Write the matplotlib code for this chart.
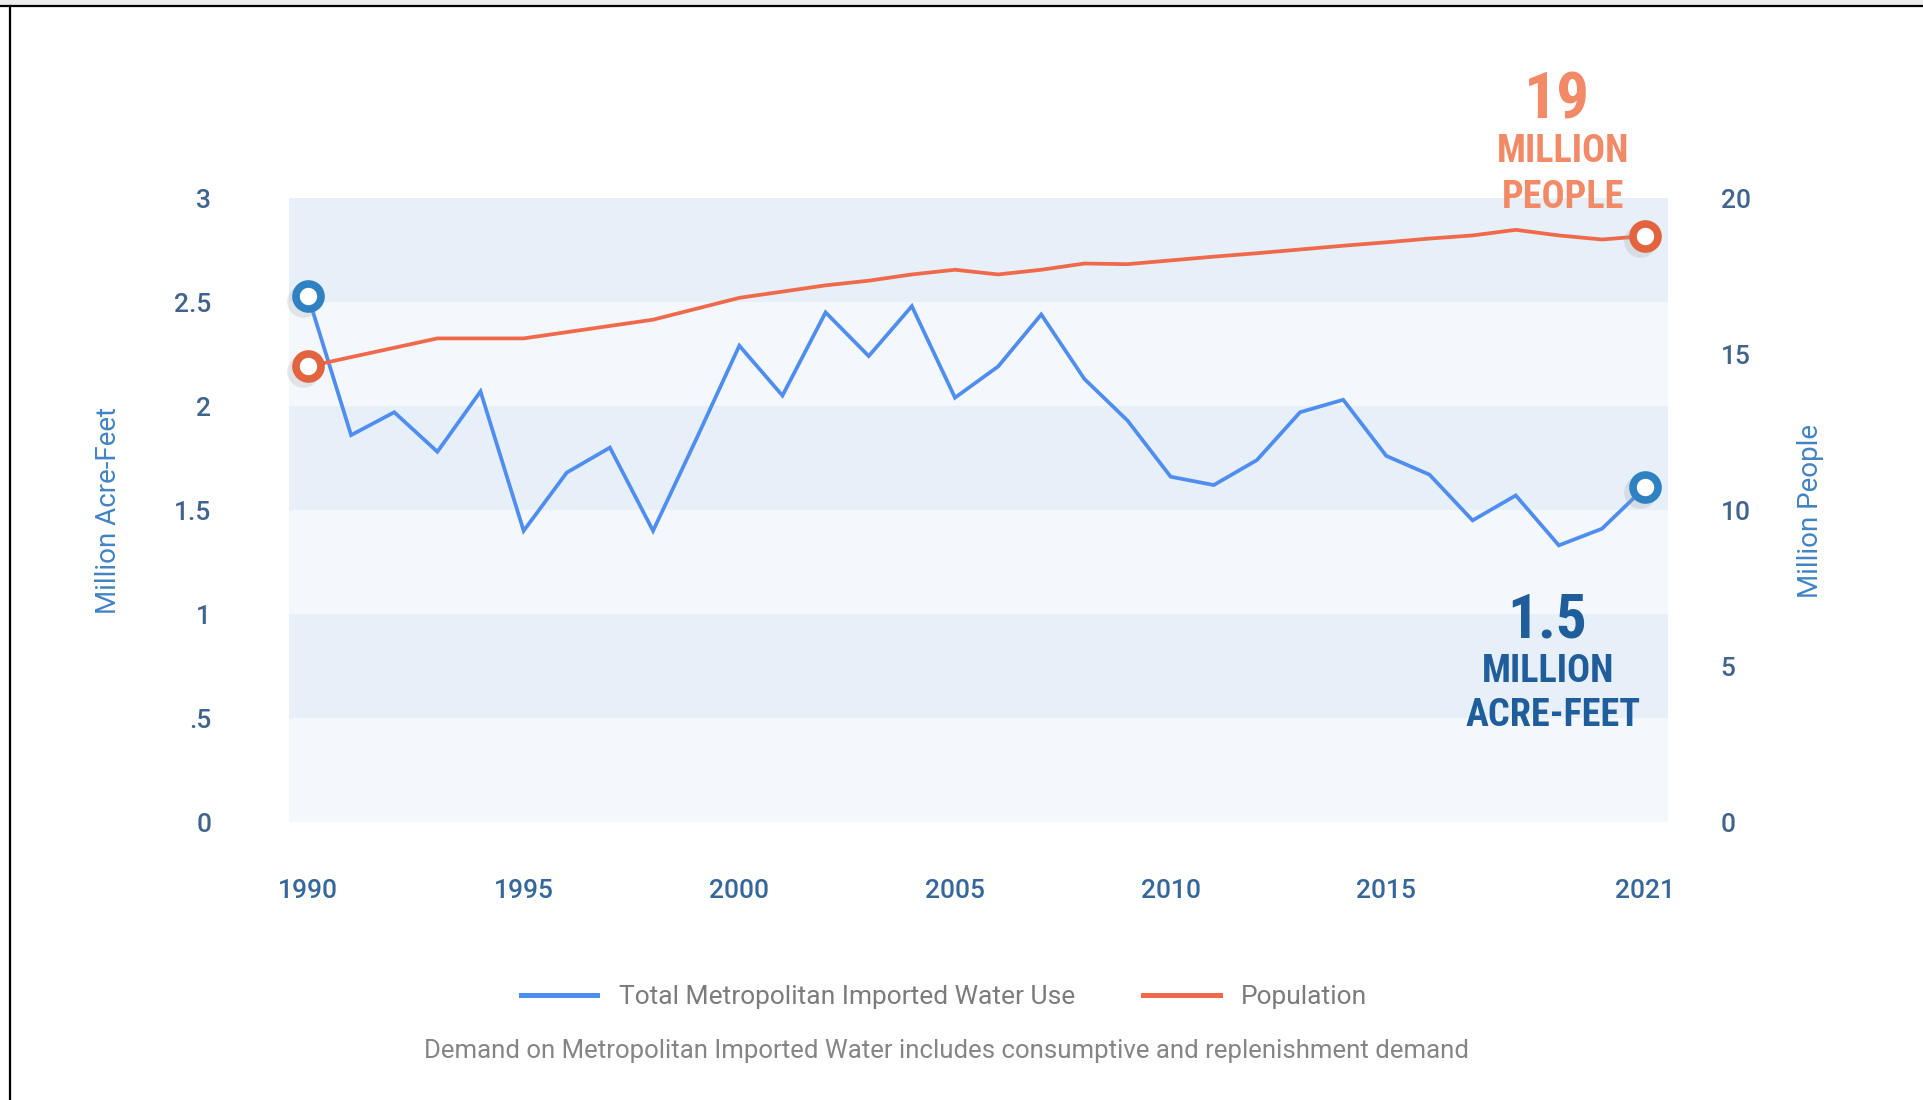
import matplotlib
matplotlib.use('Agg')
import matplotlib.pyplot as plt
from matplotlib import font_manager as fm
import matplotlib.transforms as mtransforms
from matplotlib.lines import Line2D
from matplotlib.patches import Rectangle

# ---------------- data ----------------
years = list(range(1990, 2022))
water_use = [2.53, 1.86, 1.97, 1.78, 2.07, 1.40, 1.68, 1.80, 1.40, 1.84,
             2.29, 2.05, 2.45, 2.24, 2.48, 2.04, 2.19, 2.44, 2.13, 1.93,
             1.66, 1.62, 1.74, 1.97, 2.03, 1.76, 1.67, 1.45, 1.57, 1.33,
             1.41, 1.61]
population = [14.6, 14.9, 15.2, 15.5, 15.5, 15.5, 15.7, 15.9, 16.1, 16.45,
              16.8, 17.0, 17.2, 17.35, 17.55, 17.7, 17.55, 17.7, 17.9, 17.88,
              18.0, 18.12, 18.23, 18.35, 18.47, 18.58, 18.7, 18.8, 18.98, 18.8,
              18.67, 18.78]
x_ticks = [1990, 1995, 2000, 2005, 2010, 2015, 2021]
left_ticks = [0, 0.5, 1, 1.5, 2, 2.5, 3]
left_tick_labels = ['0', '.5', '1', '1.5', '2', '2.5', '3']
right_ticks = [0, 5, 10, 15, 20]
series_labels = ['Total Metropolitan Imported Water Use', 'Population']
footnote = 'Demand on Metropolitan Imported Water includes consumptive and replenishment demand'


def pick(names):
    for n in names:
        try:
            fm.findfont(fm.FontProperties(family=n), fallback_to_default=False)
            return n
        except Exception:
            pass
    return 'DejaVu Sans'


BASE = pick(['Roboto', 'Liberation Sans', 'DejaVu Sans'])
COND = pick(['Roboto Condensed', 'Liberation Sans Narrow', 'Roboto'])

BLUE = '#4f8ef0'
ORANGE = '#f0694a'
RING_BLUE = '#2f82c2'
RING_ORANGE = '#e2643e'
BAND_DARK = '#e7eff9'
BAND_LIGHT = '#f4f8fd'
TICK_COL = '#41648c'
XTICK_COL = '#36679a'
AXLABEL_COL = '#4383c4'
GREY = '#7c7c7c'
TXT_ORANGE = '#f28a68'
TXT_BLUE = '#1f5d9b'

W, H = 1923, 1100
fig = plt.figure(figsize=(W / 100, H / 100), dpi=100)
fig.patch.set_facecolor('white')

ax = fig.add_axes([289 / W, 1 - 822 / H, (1668 - 289) / W, (822 - 198) / H])
ax2 = ax.twinx()

# background bands
for k in range(6):
    lo = k * 0.5
    ax.axhspan(lo, lo + 0.5, color=BAND_DARK if k % 2 == 1 else BAND_LIGHT, lw=0, zorder=0)

ax.set_xlim(1989.56, 2021.53)
ax.set_ylim(0, 3)
ax2.set_ylim(0, 20)

for a in (ax, ax2):
    for s in a.spines.values():
        s.set_visible(False)

ax.plot(years, water_use, color=BLUE, lw=2.7, zorder=3, solid_joinstyle='miter')
ax2.plot(years, population, color=ORANGE, lw=2.7, zorder=3)

# end markers with soft shadow
def ring(axis, x, y, col):
    sh = mtransforms.offset_copy(axis.transData, fig=fig, x=-5, y=-5, units='dots')
    axis.plot([x], [y], marker='o', ms=18, mew=5.5, mfc='none', mec='#9a9a9a',
              alpha=0.22, transform=sh, zorder=4, clip_on=False)
    axis.plot([x], [y], marker='o', ms=18, mew=5.5, mfc='white', mec=col,
              zorder=5, clip_on=False)

ring(ax, years[0], water_use[0], RING_BLUE)
ring(ax, years[-1], water_use[-1], RING_BLUE)
ring(ax2, years[0], population[0], RING_ORANGE)
ring(ax2, years[-1], population[-1], RING_ORANGE)

ax.set_xticks(x_ticks)
ax.set_xticklabels([str(v) for v in x_ticks], fontfamily=BASE, fontsize=19,
                   fontweight='medium', color=XTICK_COL)
ax.set_yticks(left_ticks)
ax.set_yticklabels(left_tick_labels, fontfamily=BASE, fontsize=19,
                   fontweight='medium', color=TICK_COL)
ax2.set_yticks(right_ticks)
ax2.set_yticklabels([str(v) for v in right_ticks], fontfamily=BASE, fontsize=19,
                    fontweight='medium', color=TICK_COL)
ax.tick_params(axis='x', length=0, pad=41)
ax.tick_params(axis='y', length=0, pad=56)
ax2.tick_params(axis='y', length=0, pad=38)

# axis titles
fig.text(108 / W, 1 - 510 / H, 'Million Acre-Feet', rotation=90, ha='center', va='center',
         fontsize=20, color=AXLABEL_COL, fontfamily=BASE)
fig.text(1811 / W, 1 - 511 / H, 'Million People', rotation=90, ha='center', va='center',
         fontsize=20, color=AXLABEL_COL, fontfamily=BASE)

# callouts
fig.text(1557 / W, 1 - 101 / H, '19', ha='center', va='center', fontsize=47,
         fontweight='bold', color=TXT_ORANGE, fontfamily=COND)
fig.text(1563 / W, 1 - 152 / H, 'MILLION', ha='center', va='center', fontsize=27.5,
         fontweight='bold', color=TXT_ORANGE, fontfamily=COND)
fig.text(1563 / W, 1 - 197 / H, 'PEOPLE', ha='center', va='center', fontsize=27.5,
         fontweight='bold', color=TXT_ORANGE, fontfamily=COND)
fig.text(1547 / W, 1 - 620 / H, '1.5', ha='center', va='center', fontsize=44,
         fontweight='bold', color=TXT_BLUE, fontfamily=COND)
fig.text(1548 / W, 1 - 672 / H, 'MILLION', ha='center', va='center', fontsize=27.5,
         fontweight='bold', color=TXT_BLUE, fontfamily=COND)
fig.text(1553 / W, 1 - 716 / H, 'ACRE-FEET', ha='center', va='center', fontsize=27.5,
         fontweight='bold', color=TXT_BLUE, fontfamily=COND)

# legend
handles = [Line2D([], [], color=BLUE, lw=3.6), Line2D([], [], color=ORANGE, lw=3.6)]
leg = fig.legend(handles, series_labels, loc='center', bbox_to_anchor=(944 / W, 1 - 997 / H),
                 ncol=2, frameon=False, handlelength=2.9, handletextpad=0.8,
                 columnspacing=2.6, prop={'family': BASE, 'size': 19})
for t in leg.get_texts():
    t.set_color(GREY)

fig.text(947 / W, 1 - 1051 / H, footnote, ha='center', va='center', fontsize=18.5,
         color='#858585', fontfamily=BASE)

# frame lines of the original picture
fig.add_artist(Rectangle((0, 1 - 5 / H), 1, 5 / H, transform=fig.transFigure,
                         color='#ececec', lw=0))
fig.add_artist(Line2D([0, 1], [1 - 6 / H, 1 - 6 / H], transform=fig.transFigure,
                      color='black', lw=1.6))
fig.add_artist(Line2D([10 / W, 10 / W], [0, 1 - 6 / H], transform=fig.transFigure,
                      color='black', lw=1.6))

fig.savefig('out.png', dpi=100)
